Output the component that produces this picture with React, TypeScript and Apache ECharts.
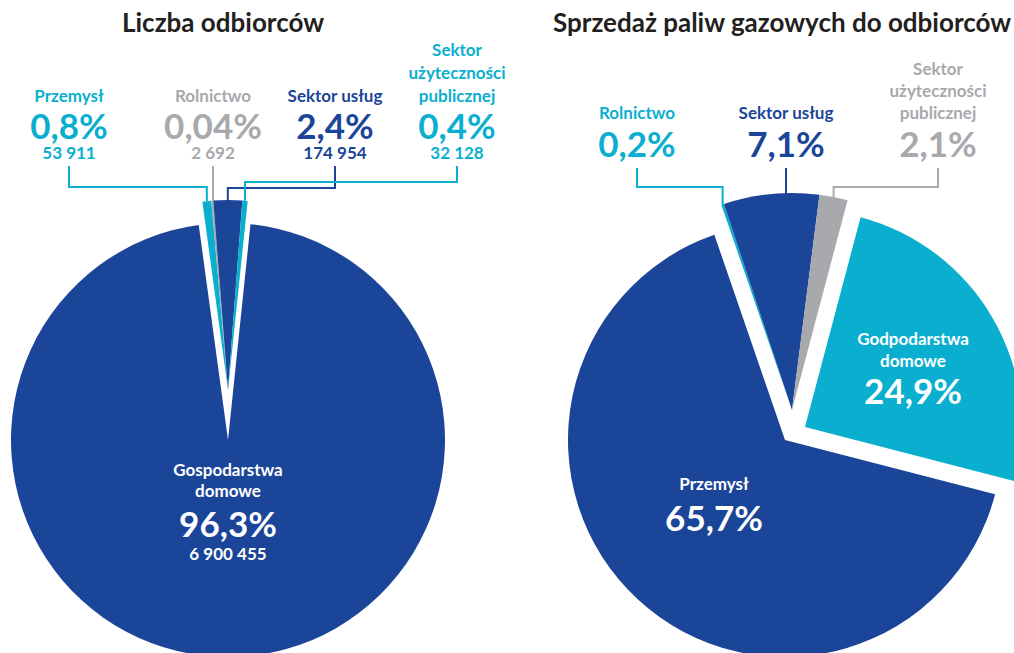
import React, { useEffect, useRef } from "react";
import * as echarts from "echarts";

// ---------- data ----------
const leftTitle = "Liczba odbiorców";
const leftCategories = [
  "Przemysł",
  "Rolnictwo",
  "Sektor usług",
  "Sektor\nużyteczności\npublicznej",
  "Gospodarstwa\ndomowe",
];
const leftValues = [53911, 2692, 174954, 32128, 6900455];

const rightTitle = "Sprzedaż paliw gazowych do odbiorców";
const rightCategories = [
  "Rolnictwo",
  "Sektor usług",
  "Sektor\nużyteczności\npublicznej",
  "Godpodarstwa\ndomowe",
  "Przemysł",
];
const rightValues = [0.2, 7.1, 2.1, 24.9, 65.7];

// ---------- styles ----------
const BLUE = "#1b4599";
const CYAN = "#0aafcf";
const GRAY = "#a7a9ac";
const TITLE = "#231f20";
const FONT = "Lato, 'Noto Sans', sans-serif";

const leftColors = [CYAN, GRAY, BLUE, CYAN, BLUE];
const rightColors = [CYAN, BLUE, GRAY, CYAN, BLUE];

type TS = { size: number; lh: number };
type LabelSpec = {
  kind: "out" | "in";
  x: number;
  y: number;
  lineTop?: number;
  elbow?: number | null;
  st: { n: TS; p: TS; c?: TS };
};

const OUT_L = { n: { size: 17, lh: 23 }, p: { size: 35, lh: 35 }, c: { size: 17, lh: 20 } };
const OUT_R = { n: { size: 17, lh: 22 }, p: { size: 35, lh: 40 } };
const IN_L = { n: { size: 17, lh: 21 }, p: { size: 35, lh: 44 }, c: { size: 17, lh: 16 } };
const IN_RG = { n: { size: 17, lh: 22 }, p: { size: 35, lh: 38 } };
const IN_RP = { n: { size: 17, lh: 22 }, p: { size: 35, lh: 46 } };

function pctText(v: number, sum: number) {
  const p = (v / sum) * 100;
  return (p < 0.1 ? p.toFixed(2) : p.toFixed(1)).replace(".", ",") + "%";
}
function countText(v: number) {
  return String(v).replace(/\B(?=(\d{3})+(?!\d))/g, " ");
}

function makeSeries(
  categories: string[],
  values: number[],
  colors: string[],
  opts: {
    visible: number[];
    center: [number, number];
    radius: number;
    startAngle: number;
    minAngle?: number;
    labels: Record<number, LabelSpec>;
    showCount: boolean;
  }
) {
  const sum = values.reduce((a, b) => a + b, 0);
  const data = categories.map((name, i) => {
    const vis = opts.visible.includes(i);
    const spec = opts.labels[i];
    const item: any = {
      name,
      value: values[i],
      itemStyle: { color: vis ? colors[i] : "rgba(0,0,0,0)", borderWidth: 0 },
    };
    if (vis && spec) {
      const txt = spec.kind === "in" ? "#ffffff" : colors[i];
      let text =
        name
          .split("\n")
          .map((s) => `{n|${s}}`)
          .join("\n") + `\n{p|${pctText(values[i], sum)}}`;
      if (opts.showCount && spec.st.c) text += `\n{c|${countText(values[i])}}`;
      const mk = (t: TS) => ({
        fontFamily: FONT,
        fontWeight: "bold",
        fontSize: t.size,
        lineHeight: t.lh,
        color: txt,
      });
      const rich: any = { n: mk(spec.st.n), p: mk(spec.st.p) };
      if (spec.st.c) rich.c = mk(spec.st.c);
      item.label = {
        show: true,
        position: spec.kind === "in" ? "inside" : "outside",
        formatter: text,
        color: txt,
        fontFamily: FONT,
        rich,
      };
      item.labelLine =
        spec.kind === "out"
          ? { show: true, length: 5, length2: 5, smooth: false, lineStyle: { color: colors[i], width: 2 } }
          : { show: false };
    } else {
      item.label = { show: false };
      item.labelLine = { show: false };
    }
    return item;
  });

  return {
    type: "pie",
    center: opts.center,
    radius: opts.radius,
    startAngle: opts.startAngle,
    clockwise: true,
    minAngle: opts.minAngle || 0,
    avoidLabelOverlap: false,
    silent: true,
    emphasis: { disabled: true },
    itemStyle: { borderWidth: 0 },
    labelLine: { show: false },
    labelLayout: (params: any) => {
      const spec = opts.labels[params.dataIndex];
      if (!spec || !opts.visible.includes(params.dataIndex)) return {};
      if (spec.kind === "in") {
        return { x: spec.x, y: spec.y, align: "center", verticalAlign: "middle" };
      }
      const pts = params.labelLinePoints;
      const p0 = pts && pts[0] ? pts[0] : [spec.x, (spec.lineTop || 0) + 30];
      let linePts: number[][];
      if (spec.elbow == null) {
        linePts = [
          [spec.x, spec.lineTop!],
          [spec.x, p0[1]],
        ];
      } else {
        linePts = [
          [spec.x, spec.lineTop!],
          [spec.x, spec.elbow],
          [p0[0], spec.elbow],
          [p0[0], p0[1]],
        ];
      }
      return {
        x: spec.x,
        y: spec.y,
        align: "center",
        verticalAlign: "bottom",
        labelLinePoints: linePts,
      };
    },
    data,
  };
}

const leftOutLabels: Record<number, LabelSpec> = {
  0: { kind: "out", x: 69, y: 162, lineTop: 166, elbow: 187, st: OUT_L },
  1: { kind: "out", x: 213, y: 162, lineTop: 166, elbow: null, st: OUT_L },
  2: { kind: "out", x: 335, y: 162, lineTop: 166, elbow: 188, st: OUT_L },
  3: { kind: "out", x: 457, y: 162, lineTop: 166, elbow: 182, st: OUT_L },
};
const leftInLabels: Record<number, LabelSpec> = {
  4: { kind: "in", x: 228, y: 510, st: IN_L },
};
const rightOutLabels: Record<number, LabelSpec> = {
  0: { kind: "out", x: 637, y: 163, lineTop: 168, elbow: 187, st: OUT_R },
  1: { kind: "out", x: 786, y: 163, lineTop: 168, elbow: null, st: OUT_R },
  2: { kind: "out", x: 938, y: 163, lineTop: 168, elbow: 187, st: OUT_R },
};
const rightInLabels: Record<number, LabelSpec> = {
  3: { kind: "in", x: 913, y: 368, st: IN_RG },
  4: { kind: "in", x: 714, y: 506, st: IN_RP },
};

export default function App() {
  const ref = useRef<HTMLDivElement>(null);
  useEffect(() => {
    if (!ref.current) return;
    const chart = echarts.init(ref.current, undefined, { renderer: "svg" });
    const titleStyle = { fontFamily: FONT, fontSize: 26, fontWeight: "bold", color: TITLE };
    const option: any = {
      animation: false,
      backgroundColor: "#ffffff",
      title: [
        { text: leftTitle, left: 223, top: 9, textAlign: "center", padding: 0, textStyle: titleStyle },
        { text: rightTitle, left: 782, top: 9, textAlign: "center", padding: 0, textStyle: titleStyle },
      ],
      series: [
        makeSeries(leftCategories, leftValues, leftColors, {
          visible: [4],
          center: [228, 440],
          radius: 217,
          startAngle: 97.75,
          minAngle: 0.6,
          labels: leftInLabels,
          showCount: true,
        }),
        makeSeries(leftCategories, leftValues, leftColors, {
          visible: [0, 1, 2, 3],
          center: [228, 390],
          radius: 190,
          startAngle: 97.75,
          minAngle: 0.6,
          labels: leftOutLabels,
          showCount: true,
        }),
        makeSeries(rightCategories, rightValues, rightColors, {
          visible: [4],
          center: [785, 440],
          radius: 217,
          startAngle: 109,
          labels: rightInLabels,
          showCount: false,
        }),
        makeSeries(rightCategories, rightValues, rightColors, {
          visible: [0, 1, 2],
          center: [792, 410],
          radius: 217,
          startAngle: 109,
          labels: rightOutLabels,
          showCount: false,
        }),
        makeSeries(rightCategories, rightValues, rightColors, {
          visible: [3],
          center: [805, 427],
          radius: 217,
          startAngle: 109,
          labels: rightInLabels,
          showCount: false,
        }),
      ],
    };
    chart.setOption(option);
    return () => chart.dispose();
  }, []);
  return (
    <div
      ref={ref}
      style={{ position: "fixed", left: 0, top: 0, width: 1014, height: 653, background: "#fff" }}
    />
  );
}
